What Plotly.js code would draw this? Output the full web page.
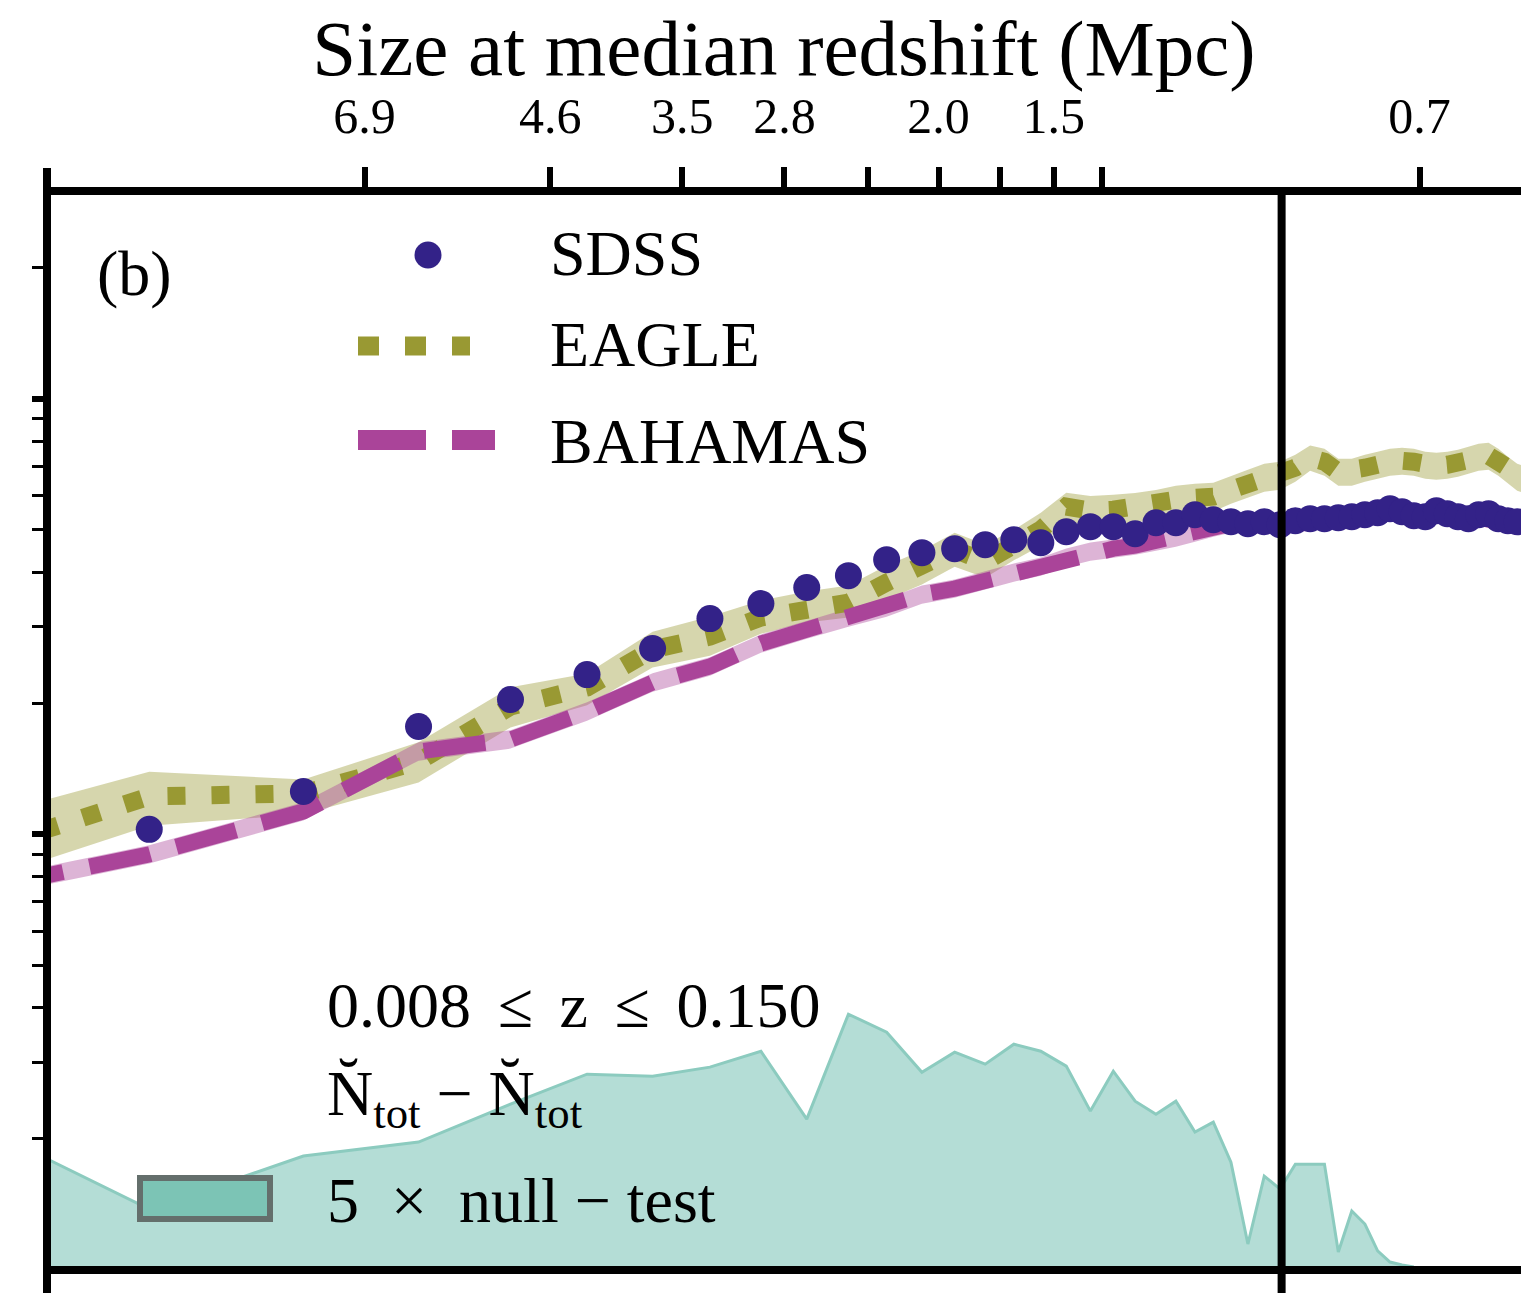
<!DOCTYPE html>
<html>
<head>
<meta charset="utf-8">
<script src="https://cdn.plot.ly/plotly-3.0.1.min.js"></script>
<style>html,body{margin:0;padding:0;overflow:hidden;background:#fff}</style>
</head>
<body>
<div id="chart" style="width:1521px;height:1293px"></div>
<script>
// ---------------- data ----------------
// angular bin centres (bottom axis, log scale)
const thetaSDSS = [2.5,3.5,4.5,5.5,6.5,7.5,8.5,9.5,10.5,11.5,12.5,13.5,14.5,15.5,16.5,17.5,18.5,19.5,20.5,21.5,22.5,23.5,24.5,25.5,26.5,27.5,28.5,29.5,30.5,31.5,32.5,33.5,34.5,35.5,36.5,37.5,38.5,39.5,40.5,41.5,42.5,43.5,44.5,45.5,46.5,47.5,48.5,49.5];
const sdss = [10.27,12.55,17.69,20.40,23.27,26.71,31.29,33.87,36.87,39.27,42.73,44.34,45.29,46.26,47.50,46.75,49.54,50.87,50.87,49.02,51.95,51.95,54.19,52.78,52.23,51.68,52.23,51.41,52.50,53.06,53.06,53.34,53.62,54.19,54.76,55.94,55.06,53.90,53.62,55.35,54.48,53.62,53.06,54.19,54.48,53.06,52.50,52.23];

const thetaModel = [1.5,2.5,3.5,4.5,5.5,6.5,7.5,8.5,9.5,10.5,11.5,12.5,13.5,14.5,15.5,16.5,17.5,18.5,19.5,20.5,21.5,22.5,23.5,24.5,25.5,26.5,27.5,28.5,29.5,30.5,31.5,32.5,33.5,34.5,35.5,36.5,37.5,38.5,39.5,40.5,41.5,42.5,43.5,44.5,45.5,46.5,47.5,48.5,49.5,50.5];
const eagle = [8.226,12.22,12.42,14.70,19.66,21.74,26.57,28.45,31.46,33.16,34.05,37.85,40.97,45.05,42.29,46.26,50.07,56.53,55.35,55.65,56.23,57.13,58.66,59.28,59.60,61.84,63.84,65.89,66.59,69.46,73.22,71.69,68.01,68.01,69.46,70.57,71.69,72.07,71.69,70.57,70.20,70.57,71.31,72.45,73.61,74.00,71.69,68.74,66.24,65.20];
// EAGLE scatter band, upper / lower half-widths in dex
const eagleErrUp = [0.083,0.057,0.032,0.044,0.044,0.032,0.041,0.046,0.039,0.037,0.039,0.039,0.039,0.039,0.039,0.034,0.039,0.032,0.034,0.034,0.034,0.034,0.032,0.032,0.032,0.032,0.032,0.032,0.032,0.030,0.028,0.030,0.030,0.030,0.030,0.030,0.030,0.030,0.030,0.030,0.030,0.030,0.030,0.030,0.030,0.030,0.030,0.030,0.030,0.030];
const eagleErrDn = [0.071,0.067,0.048,0.048,0.048,0.041,0.041,0.044,0.037,0.034,0.034,0.039,0.039,0.039,0.037,0.036,0.037,0.034,0.034,0.034,0.034,0.034,0.034,0.034,0.034,0.032,0.032,0.032,0.032,0.032,0.030,0.032,0.032,0.032,0.032,0.032,0.032,0.032,0.032,0.032,0.032,0.032,0.032,0.032,0.032,0.032,0.032,0.032,0.032,0.032];
const bahamas = [6.983,8.999,11.29,15.50,16.52,19.15,22.32,24.29,27.42,29.53,31.46,33.16,35.52,36.67,38.25,39.90,41.19,43.18,44.57,45.29,46.01,46.99,47.99,49.28,50.60,51.68,51.41,51.41,51.14,51.68,52.23,52.50,52.78,53.34,54.19,55.06,56.23,54.76,53.34,53.06,54.19,53.62,53.06,52.50,53.34,53.34,52.23,51.68,51.41,51.14];
const bahamasErrDex = 0.021;

// 5 x null-test
const thetaNull = [1.5,2.5,3.5,4.5,5.5,6.5,7.5,8.5,9.5,10.5,11.5,12.5,13.5,14.5,15.5,16.5,17.5,18.5,19.5,20.5,21.5,22.5,23.5,24.5,25.5,26.5,27.5,28.5,29.5,30.5,31.5,32.5,33.5,34.5,35.5,36.5,37.5,38.5,39.5];
const nullTest = [2.533,1.380,1.826,1.966,2.403,2.815,2.786,2.922,3.179,2.220,3.866,3.515,2.845,3.162,2.969,3.299,3.179,2.938,2.316,2.860,2.441,2.279,2.441,2.073,2.185,1.769,1.147,1.643,1.534,1.750,1.750,1.750,1.100,1.366,1.275,1.106,1.043,1.027,1.016];

// top axis: size at median redshift (Mpc)
const topTickTheta = [4,6,8,10,14,18,40];
const topTickText  = ['6.9','4.6','3.5','2.8','2.0','1.5','0.7'];
const topMinorTheta = [12,16,20];
const refLineTheta = 29.6;

// y-axis (log) ticks
const yMajorTicks = [10,100];
const yMinorTicks = [2,3,4,5,6,7,8,9,20,30,40,50,60,70,80,90,200];

// ---------------- layout geometry ----------------
const FONT = 'Liberation Serif, Times New Roman, serif';
const L = 47, T = 195, W = 1474, H = 1071;
const xr = [Math.log10(2), Math.log10(2) + 1.39717];
const yr = [0.00918, 2.46786];
const px2x = p => (p - L) / W;
const py2y = p => (T + H - p) / H;
const th2x = t => (Math.log10(t) - xr[0]) / (xr[1] - xr[0]);

function band(x, y, up, dn) {
  const hi = y.map((v, i) => v * Math.pow(10, typeof up === 'number' ? up : up[i]));
  const lo = y.map((v, i) => v / Math.pow(10, typeof dn === 'number' ? dn : dn[i]));
  return { x: x.concat(x.slice().reverse()), y: hi.concat(lo.slice().reverse()) };
}
const eb = band(thetaModel, eagle, eagleErrUp, eagleErrDn);
const bb = band(thetaModel, bahamas, bahamasErrDex, bahamasErrDex);

const traces = [
  { x: thetaNull, y: nullTest, mode: 'lines', fill: 'tozeroy',
    fillcolor: 'rgba(68,170,153,0.4)', line: { color: '#8ccbbf', width: 3 }, name: '5 x null-test' },
  { x: eb.x, y: eb.y, mode: 'lines', fill: 'toself', fillcolor: 'rgba(153,153,51,0.4)',
    line: { width: 0 }, name: 'EAGLE band' },
  { x: bb.x, y: bb.y, mode: 'lines', fill: 'toself', fillcolor: 'rgba(170,68,153,0.4)',
    line: { width: 0 }, name: 'BAHAMAS band' },
  { x: thetaModel, y: eagle, mode: 'lines', name: 'EAGLE',
    line: { color: '#999933', width: 18, dash: '18px,26px' } },
  { x: thetaModel, y: bahamas, mode: 'lines', name: 'BAHAMAS',
    line: { color: '#AA4499', width: 16, dash: '62px,27px' } },
  { x: thetaSDSS, y: sdss, mode: 'markers', name: 'SDSS',
    marker: { color: '#332288', size: 27, line: { width: 0 } } },
  // same SDSS points attached to the top (size) axis so that it is drawn; fully transparent
  { x: thetaSDSS, y: sdss, xaxis: 'x2', mode: 'markers', name: 'SDSS (size axis)',
    marker: { color: 'rgba(0,0,0,0)', size: 1 }, hoverinfo: 'skip' }
];

const ann = (text, px, py, size) => ({
  text: text, xref: 'paper', yref: 'paper', x: px2x(px), y: py2y(py),
  xanchor: 'left', yanchor: 'middle', showarrow: false,
  font: { family: FONT, size: size || 64, color: '#000' }
});

const layout = {
  width: 1521, height: 1293,
  margin: { l: L, r: 1521 - L - W, t: T, b: 1293 - T - H, pad: 0 },
  paper_bgcolor: '#fff', plot_bgcolor: '#fff',
  showlegend: false, hovermode: false,
  title: { text: 'Size at median redshift (Mpc)', font: { family: FONT, size: 79, color: '#000' },
           xref: 'paper', x: 0.5, xanchor: 'center', yref: 'container', y: (1293 - 47) / 1293, yanchor: 'middle' },
  xaxis: { type: 'log', range: xr, showline: true, linewidth: 8, linecolor: '#000',
           ticks: '', showticklabels: false, showgrid: false, zeroline: false },
  xaxis2: { type: 'log', range: xr, overlaying: 'x', side: 'top', anchor: 'y',
            tickmode: 'array', tickvals: topTickTheta, ticktext: topTickText,
            ticks: 'outside', ticklen: 20, tickwidth: 6, tickcolor: '#000', ticklabelstandoff: 14,
            minor: { tickmode: 'array', tickvals: topMinorTheta, ticks: 'outside', ticklen: 20, tickwidth: 6, tickcolor: '#000', showgrid: false },
            showline: true, linewidth: 8, linecolor: '#000', showgrid: false, zeroline: false,
            tickfont: { family: FONT, size: 50, color: '#000' } },
  yaxis: { type: 'log', range: yr, showline: false, showgrid: false, zeroline: false,
           tickmode: 'array', tickvals: yMajorTicks, showticklabels: false,
           ticks: 'outside', ticklen: 14, tickwidth: 6, tickcolor: '#000',
           minor: { tickmode: 'array', tickvals: yMinorTicks, ticks: 'outside', ticklen: 14, tickwidth: 3, tickcolor: '#000', showgrid: false } },
  shapes: [
    { type: 'line', xref: 'paper', yref: 'paper', x0: 0, x1: 0, y0: py2y(1300), y1: py2y(168),
      line: { color: '#000', width: 8 }, layer: 'above' },
    { type: 'line', xref: 'paper', yref: 'paper', x0: th2x(refLineTheta), x1: th2x(refLineTheta),
      y0: py2y(1300), y1: py2y(191), line: { color: '#000', width: 8 }, layer: 'above' },
    { type: 'circle', xref: 'paper', yref: 'paper', x0: px2x(414.5), x1: px2x(441.5),
      y0: py2y(268.5), y1: py2y(241.5), fillcolor: '#332288', line: { width: 0 } },
    { type: 'line', xref: 'paper', yref: 'paper', x0: px2x(358), x1: px2x(470), y0: py2y(346), y1: py2y(346),
      line: { color: '#999933', width: 19, dash: '21px,26px' } },
    { type: 'line', xref: 'paper', yref: 'paper', x0: px2x(358), x1: px2x(495), y0: py2y(440), y1: py2y(440),
      line: { color: '#AA4499', width: 20, dash: '68px,26px' } },
    { type: 'rect', xref: 'paper', yref: 'paper', x0: px2x(140), x1: px2x(270), y0: py2y(1219), y1: py2y(1178),
      fillcolor: '#7cc4b5', line: { color: '#646f6c', width: 6 }, layer: 'above' }
  ],
  annotations: [
    ann('(b)', 95, 274),
    ann('SDSS', 548, 253),
    ann('EAGLE', 548, 345),
    ann('BAHAMAS', 548, 441),
    ann('0.008\u2004\u200a\u2264\u2004\u200az\u2004\u200a\u2264\u2004\u200a0.150', 325, 1005),
    ann('N\u0306<sub>tot</sub> \u2212 N\u0306<sub>tot</sub>', 325, 1098),
    ann('5\u2002\u00d7\u2002null \u2212 test', 325, 1200)
  ]
};

Plotly.newPlot('chart', traces, layout, { staticPlot: true, displayModeBar: false });
</script>
</body>
</html>
